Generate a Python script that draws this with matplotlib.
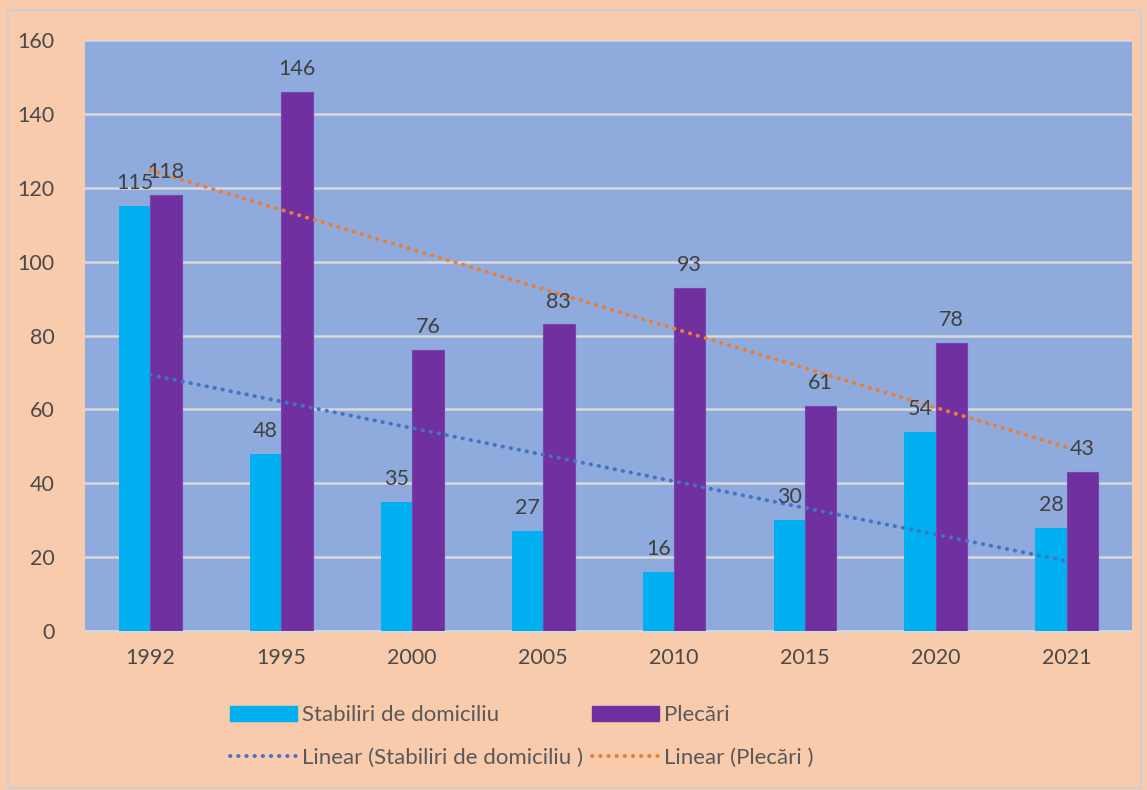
import numpy as np
import matplotlib.pyplot as plt
from matplotlib.lines import Line2D
from matplotlib.patches import Patch, Rectangle

years = ['1992', '1995', '2000', '2005', '2010', '2015', '2020', '2021']
stabiliri = [115, 48, 35, 27, 16, 30, 54, 28]
plecari = [118, 146, 76, 83, 93, 61, 78, 43]
yticks = [0, 20, 40, 60, 80, 100, 120, 140, 160]

DOTS = (0, (0.1, 2.0))


def main():
    plt.rcParams['font.family'] = ['Lato', 'DejaVu Sans']
    fig = plt.figure(figsize=(11.47, 7.90), dpi=100, facecolor='#F8CBAD')
    fig.patches.append(Rectangle((0.007, 0.003), 0.988, 0.984, transform=fig.transFigure,
                                 fill=False, edgecolor='#D0D0D0', linewidth=1.5))
    ax = fig.add_axes([0.0741, 0.2013, 0.913, 0.748])
    ax.set_facecolor('#8FAADC')

    x = np.arange(len(years))
    w = 0.24
    ax.bar(x - w / 2, stabiliri, w, color='#00B0F0', zorder=3)
    ax.bar(x + w / 2, plecari, w, color='#7030A0', edgecolor='#7A45B0', linewidth=0.8, zorder=3)

    for xi, v in zip(x, stabiliri):
        ax.text(xi - w / 2, v + 3.5, str(v), ha='center', va='bottom',
                fontsize=15.5, color='#404040', zorder=5)
    for xi, v in zip(x, plecari):
        ax.text(xi + w / 2, v + 3.5, str(v), ha='center', va='bottom',
                fontsize=15.5, color='#404040', zorder=5)

    # linear trend lines across category positions
    xs = x + 1
    for vals, col in [(stabiliri, '#4472C4'), (plecari, '#ED7D31')]:
        k, b = np.polyfit(xs, vals, 1)
        ax.plot(x, k * xs + b, linestyle=DOTS, color=col, linewidth=2.8,
                dash_capstyle='round', zorder=4)

    ax.set_xlim(-0.5, len(years) - 0.5)
    ax.set_ylim(0, 160)
    ax.set_yticks(yticks)
    ax.set_xticks(x)
    ax.set_xticklabels(years)
    ax.tick_params(axis='both', length=0, labelsize=15.5, colors='#4A4A4A')
    ax.tick_params(axis='y', pad=22)
    ax.tick_params(axis='x', pad=12)
    ax.grid(axis='y', color='#D9D9D9', linewidth=1.8, zorder=1)
    for s in ['top', 'right', 'left']:
        ax.spines[s].set_visible(False)
    ax.spines['bottom'].set_color('#D9D9D9')
    ax.spines['bottom'].set_linewidth(1.8)

    handles = [
        Patch(color='#00B0F0'),
        Line2D([], [], color='#4472C4', linestyle=DOTS, linewidth=2.8, dash_capstyle='round'),
        Patch(color='#7030A0'),
        Line2D([], [], color='#ED7D31', linestyle=DOTS, linewidth=2.8, dash_capstyle='round'),
    ]
    labels = ['Stabiliri de domiciliu', 'Linear (Stabiliri de domiciliu )',
              'Plecări', 'Linear (Plecări )']
    fig.legend(handles, labels, ncol=2, loc='center', bbox_to_anchor=(0.455, 0.068),
               frameon=False, fontsize=16, handlelength=3.0, handleheight=0.7,
               handletextpad=0.25, columnspacing=0.4, labelspacing=1.0, labelcolor='#595959')

    fig.savefig('out.png', dpi=100, facecolor=fig.get_facecolor())


if __name__ == '__main__':
    main()
